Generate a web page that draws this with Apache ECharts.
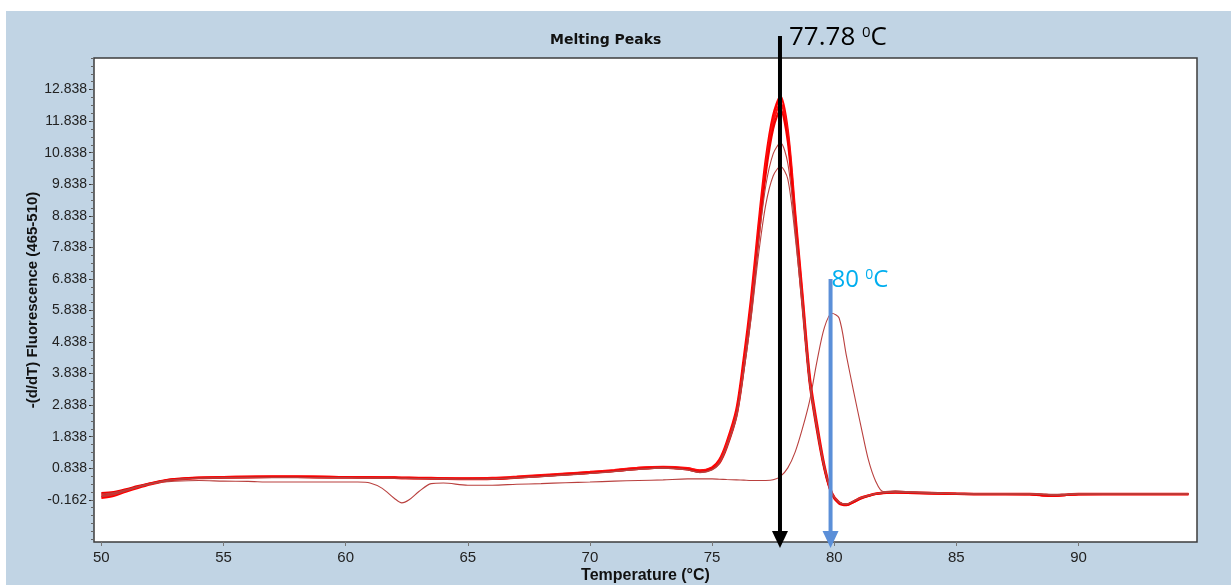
<!DOCTYPE html>
<html>
<head>
<meta charset="utf-8">
<title>Melting Peaks</title>
<script src="https://cdn.jsdelivr.net/npm/echarts@6/dist/echarts.min.js"></script>
<style>
  html, body { margin: 0; padding: 0; background: #fff; }
  #main { width: 1231px; height: 585px; }
</style>
</head>
<body>
<div id="main"></div>
<script>
// temperature steps (°C) shared by every curve
var temps = [50, 50.5, 51, 51.5, 52, 52.5, 53, 54, 55, 56, 57, 58, 59, 60, 60.5, 61, 61.5, 62, 62.3, 62.6,
  63, 63.5, 64, 65, 66, 67, 68, 69, 70, 71, 72, 73, 74, 74.5, 75, 75.3, 75.6, 76, 76.3, 76.6,
  76.9, 77.2, 77.5, 77.8, 78.1, 78.4, 78.7, 79, 79.3, 79.6, 79.9, 80.2, 80.5, 80.8, 81.1, 81.4, 81.7, 82,
  82.5, 83, 84, 85, 86, 87, 88, 88.5, 89, 89.5, 90, 91, 92, 93, 94, 94.5];

// -(d/dT) values, thick curves (peak ~77.8)
var curveA = [-0.1, -0.03, 0.1, 0.22, 0.33, 0.42, 0.48, 0.53, 0.55, 0.56, 0.57, 0.57, 0.56, 0.55, 0.55, 0.55, 0.54, 0.54, 0.53, 0.53,
  0.52, 0.52, 0.51, 0.5, 0.51, 0.55, 0.6, 0.65, 0.7, 0.76, 0.84, 0.87, 0.82, 0.75, 0.86, 1.1, 1.65, 2.7, 4.3, 6.2,
  8.5, 10.6, 12.0, 12.62, 11.5, 8.9, 6.3, 3.7, 2.2, 0.9, 0.05, -0.25, -0.32, -0.22, -0.1, -0.03, 0.03, 0.06,
  0.08, 0.07, 0.05, 0.03, 0.02, 0.02, 0.02, 0.0, -0.03, 0.0, 0.02, 0.02, 0.02, 0.02, 0.02, 0.02];
var curveB = [-0.02, 0.03, 0.14, 0.25, 0.35, 0.43, 0.49, 0.54, 0.56, 0.57, 0.58, 0.58, 0.57, 0.56, 0.56, 0.56, 0.55, 0.55, 0.54, 0.54,
  0.53, 0.53, 0.52, 0.52, 0.53, 0.57, 0.62, 0.67, 0.72, 0.78, 0.85, 0.88, 0.84, 0.77, 0.84, 1.05, 1.6, 2.6, 4.1, 6.0,
  8.3, 10.4, 11.8, 12.4, 11.4, 8.8, 6.2, 3.6, 2.1, 0.85, 0.04, -0.26, -0.31, -0.21, -0.1, -0.03, 0.03, 0.06,
  0.07, 0.06, 0.04, 0.03, 0.02, 0.02, 0.02, -0.02, -0.04, -0.01, 0.02, 0.02, 0.02, 0.02, 0.02, 0.02];
var curveC = [0.05, 0.08, 0.17, 0.27, 0.36, 0.44, 0.49, 0.53, 0.54, 0.55, 0.56, 0.56, 0.55, 0.55, 0.54, 0.54, 0.53, 0.53, 0.52, 0.52,
  0.52, 0.51, 0.51, 0.5, 0.5, 0.54, 0.59, 0.64, 0.69, 0.75, 0.82, 0.86, 0.8, 0.72, 0.82, 1.0, 1.5, 2.5, 4.0, 5.8,
  8.1, 10.2, 11.6, 12.2, 11.2, 8.6, 6.0, 3.5, 2.0, 0.8, 0.02, -0.28, -0.33, -0.23, -0.12, -0.04, 0.02, 0.05,
  0.07, 0.06, 0.04, 0.03, 0.02, 0.02, 0.01, -0.02, -0.03, -0.01, 0.01, 0.02, 0.02, 0.02, 0.02, 0.02];
// thin curves with lower peaks at ~77.8
var curveD = [-0.06, 0.0, 0.12, 0.24, 0.34, 0.42, 0.48, 0.52, 0.54, 0.55, 0.55, 0.55, 0.54, 0.54, 0.53, 0.53, 0.53, 0.52, 0.52, 0.52,
  0.51, 0.51, 0.5, 0.49, 0.5, 0.54, 0.58, 0.63, 0.68, 0.74, 0.81, 0.85, 0.79, 0.71, 0.8, 1.02, 1.55, 2.55, 4.05, 5.9,
  8.0, 9.8, 10.8, 11.15, 10.5, 8.5, 6.1, 3.6, 2.1, 0.85, 0.05, -0.24, -0.3, -0.2, -0.1, -0.03, 0.03, 0.06,
  0.08, 0.07, 0.05, 0.03, 0.02, 0.02, 0.02, 0.01, -0.02, 0.0, 0.02, 0.02, 0.02, 0.02, 0.02, 0.02];
var curveE = [0.02, 0.06, 0.15, 0.26, 0.35, 0.43, 0.48, 0.52, 0.53, 0.54, 0.54, 0.54, 0.54, 0.53, 0.53, 0.53, 0.52, 0.52, 0.52, 0.51,
  0.51, 0.5, 0.5, 0.49, 0.49, 0.53, 0.57, 0.62, 0.67, 0.73, 0.8, 0.84, 0.78, 0.7, 0.78, 1.0, 1.5, 2.45, 3.9, 5.6,
  7.6, 9.2, 10.1, 10.4, 10.0, 8.2, 5.9, 3.5, 2.05, 0.85, 0.05, -0.24, -0.3, -0.2, -0.1, -0.03, 0.03, 0.06,
  0.09, 0.08, 0.05, 0.03, 0.02, 0.02, 0.02, 0.01, -0.01, 0.0, 0.02, 0.02, 0.02, 0.02, 0.02, 0.02];
// thin curve with its peak at ~80 and a small dip near 62
var curveF = [-0.05, 0.05, 0.15, 0.25, 0.33, 0.4, 0.43, 0.45, 0.43, 0.42, 0.4, 0.4, 0.4, 0.4, 0.4, 0.37, 0.2, -0.12, -0.26, -0.16,
  0.1, 0.35, 0.37, 0.3, 0.3, 0.33, 0.35, 0.38, 0.4, 0.43, 0.45, 0.47, 0.5, 0.5, 0.5, 0.49, 0.48, 0.47, 0.46, 0.45,
  0.45, 0.45, 0.47, 0.58, 0.85, 1.35, 2.1, 3.0, 4.25, 5.3, 5.75, 5.6, 4.4, 3.25, 2.15, 1.1, 0.42, 0.1,
  0.12, 0.1, 0.07, 0.04, 0.03, 0.03, 0.03, 0.02, 0.01, 0.02, 0.03, 0.03, 0.03, 0.03, 0.03, 0.03];

var xTickLabels = [50, 55, 60, 65, 70, 75, 80, 85, 90];
var yTickLabels = [-0.162, 0.838, 1.838, 2.838, 3.838, 4.838, 5.838, 6.838, 7.838, 8.838, 9.838, 10.838, 11.838, 12.838];

// arrows drawn on top of the chart
var markerTemps = [77.78, 79.85];
var markerLabels = ['77.78 ', '80 '];

var xMin = 49.7, xMax = 94.85, yMin = -1.5, yMax = 13.84;

// small ticks every 0.25 between the labelled ones
var yMinorTicks = [];
for (var v = yTickLabels[0] - 1.25; v <= yMax; v += 0.25) {
  yMinorTicks.push(+v.toFixed(3));
}

function toPoints(vals) {
  return temps.map(function (t, i) { return [t, vals[i]]; });
}

function curve(name, vals, color, width) {
  return {
    name: name,
    type: 'line',
    data: toPoints(vals),
    showSymbol: false,
    smooth: 0.3,
    lineStyle: { color: color, width: width },
    itemStyle: { color: color },
    z: 3
  };
}

var myChart = echarts.init(document.getElementById('main'));

myChart.setOption({
  backgroundColor: '#fff',
  animation: false,
  title: {
    text: 'Melting Peaks',
    left: 545,
    top: 28,
    textStyle: { fontFamily: 'DejaVu Sans', fontWeight: 'bold', fontSize: 14, color: '#111' }
  },
  grid: {
    left: 94, top: 58, right: 34, bottom: 43,
    outerBoundsMode: 'none',
    containLabel: false,
    show: true,
    backgroundColor: '#fff',
    borderColor: '#3c3c3c',
    borderWidth: 1.5
  },
  xAxis: {
    type: 'value',
    min: xMin,
    max: xMax,
    name: 'Temperature (°C)',
    nameLocation: 'middle',
    nameGap: 26,
    nameMoveOverlap: false,
    nameTextStyle: { fontFamily: 'Liberation Sans', fontWeight: 'bold', fontSize: 16, color: '#111' },
    axisLine: { show: false, onZero: false },
    axisTick: { show: true, length: 4, customValues: xTickLabels, lineStyle: { color: '#777' } },
    axisLabel: {
      customValues: xTickLabels, margin: 8,
      fontFamily: 'Liberation Sans', fontSize: 15, color: '#222'
    },
    splitLine: { show: false }
  },
  yAxis: [{
    type: 'value',
    min: yMin,
    max: yMax,
    name: '-(d/dT) Fluorescence (465-510)',
    nameLocation: 'middle',
    nameGap: 54,
    nameMoveOverlap: false,
    nameTextStyle: { fontFamily: 'Liberation Sans', fontWeight: 'bold', fontSize: 15, color: '#111' },
    axisLine: { show: false, onZero: false },
    axisTick: { show: true, length: 5, customValues: yTickLabels, lineStyle: { color: '#333' } },
    axisLabel: {
      customValues: yTickLabels, margin: 7,
      fontFamily: 'Liberation Sans', fontSize: 14, color: '#222',
      formatter: function (val) { return val.toFixed(3); }
    },
    splitLine: { show: false }
  }, {
    type: 'value',
    min: yMin,
    max: yMax,
    position: 'left',
    axisLine: { show: false, onZero: false },
    axisTick: { show: true, length: 3, customValues: yMinorTicks, lineStyle: { color: '#666' } },
    axisLabel: { show: false },
    splitLine: { show: false }
  }],
  series: [
    curve('A', curveA, '#ff0000', 2.6),
    curve('B', curveB, '#ff1010', 2.2),
    curve('C', curveC, '#f20000', 2.2),
    curve('D', curveD, '#b9403e', 1.1),
    curve('E', curveE, '#b9403e', 1.1),
    curve('F', curveF, '#b9403e', 1.1)
  ]
});

// arrows and their labels, placed from the temperatures through the x scale
var xBlack = myChart.convertToPixel({ xAxisIndex: 0 }, markerTemps[0]);
var xBlue = myChart.convertToPixel({ xAxisIndex: 0 }, markerTemps[1]);

myChart.setOption({
  graphic: [
    {
      type: 'rect', z: -100, silent: true,
      shape: { x: 6, y: 11, width: 1225, height: 574 },
      style: { fill: '#c1d4e4' }
    },
    {
      type: 'line', z: 100, silent: true,
      shape: { x1: xBlack, y1: 36, x2: xBlack, y2: 533 },
      style: { stroke: '#000', lineWidth: 4 }
    },
    {
      type: 'polygon', z: 100, silent: true,
      shape: { points: [[xBlack - 8, 531], [xBlack + 8, 531], [xBlack, 548]] },
      style: { fill: '#000' }
    },
    {
      type: 'text', z: 100, silent: true,
      x: xBlack + 9, y: 25,
      style: {
        text: '{n|' + markerLabels[0] + '}{s|0}{n|C}',
        rich: {
          n: { fontFamily: 'Open Sans', fontSize: 26, fill: '#000', verticalAlign: 'bottom' },
          s: { fontFamily: 'Open Sans', fontSize: 15, fill: '#000', verticalAlign: 'top' }
        }
      }
    },
    {
      type: 'line', z: 100, silent: true,
      shape: { x1: xBlue, y1: 279, x2: xBlue, y2: 533 },
      style: { stroke: '#5b8fd8', lineWidth: 4 }
    },
    {
      type: 'polygon', z: 100, silent: true,
      shape: { points: [[xBlue - 8, 531], [xBlue + 8, 531], [xBlue, 548]] },
      style: { fill: '#5b8fd8' }
    },
    {
      type: 'text', z: 101, silent: true,
      x: xBlue + 1, y: 268,
      style: {
        text: '{n|' + markerLabels[1] + '}{s|0}{n|C}',
        rich: {
          n: { fontFamily: 'Open Sans', fontSize: 24, fill: '#00aeef', verticalAlign: 'bottom' },
          s: { fontFamily: 'Open Sans', fontSize: 14, fill: '#00aeef', verticalAlign: 'top' }
        }
      }
    }
  ]
});

window.addEventListener('resize', function () {
  myChart.resize();
});
</script>
</body>
</html>
